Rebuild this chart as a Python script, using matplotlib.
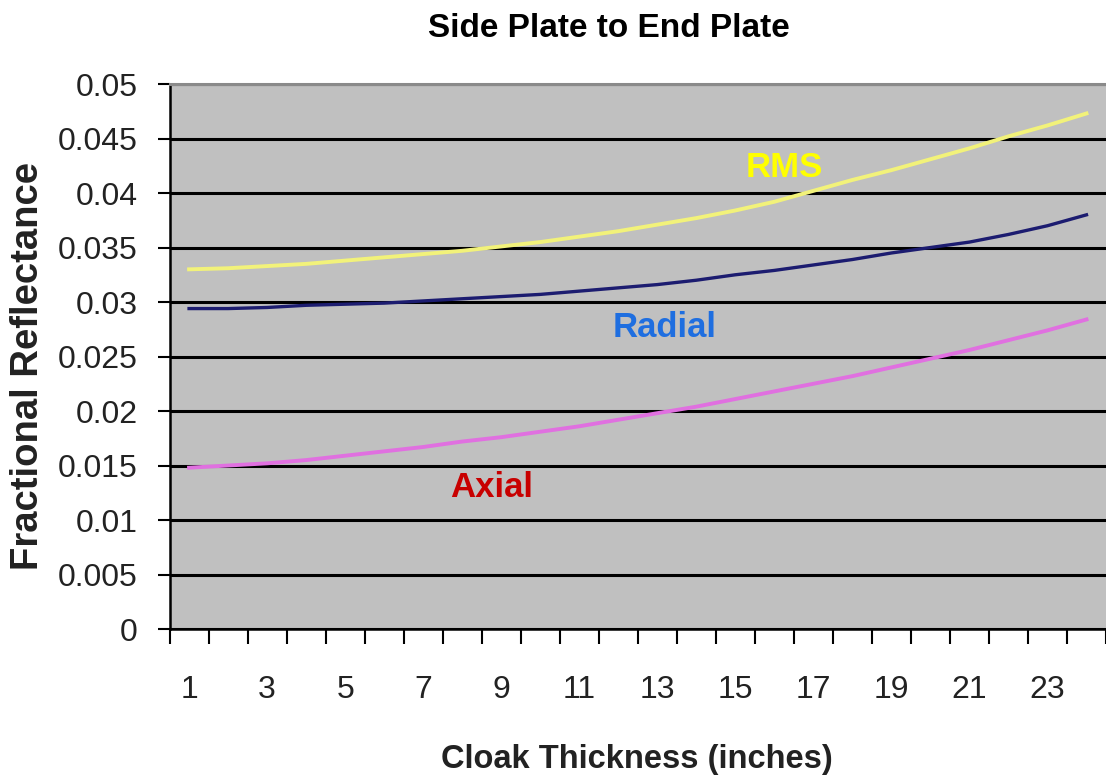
import matplotlib
matplotlib.use('Agg')
import matplotlib.pyplot as plt
from matplotlib.ticker import FixedLocator

thickness = list(range(1, 25))

rms = [0.0330, 0.0331, 0.0333, 0.0335, 0.0338, 0.0341, 0.0344, 0.0347,
       0.0351, 0.0355, 0.0360, 0.0365, 0.0371, 0.0377, 0.0384, 0.0392,
       0.0402, 0.0412, 0.0421, 0.0431, 0.0441, 0.0452, 0.0462, 0.0473]
radial = [0.0294, 0.0294, 0.0295, 0.0297, 0.0298, 0.0299, 0.0301, 0.0303,
          0.0305, 0.0307, 0.0310, 0.0313, 0.0316, 0.0320, 0.0325, 0.0329,
          0.0334, 0.0339, 0.0345, 0.0350, 0.0355, 0.0362, 0.0370, 0.0380]
axial = [0.0148, 0.0150, 0.0152, 0.0155, 0.0159, 0.0163, 0.0167, 0.0172,
         0.0176, 0.0181, 0.0186, 0.0192, 0.0198, 0.0204, 0.0211, 0.0218,
         0.0225, 0.0232, 0.0240, 0.0248, 0.0256, 0.0265, 0.0274, 0.0284]

x_tick_labels = ['1', '3', '5', '7', '9', '11', '13', '15', '17', '19', '21', '23']
y_ticks = [0, 0.005, 0.01, 0.015, 0.02, 0.025, 0.03, 0.035, 0.04, 0.045, 0.05]
y_tick_labels = ['0', '0.005', '0.01', '0.015', '0.02', '0.025', '0.03',
                 '0.035', '0.04', '0.045', '0.05']

narrow = ['Liberation Sans Narrow', 'Liberation Sans', 'DejaVu Sans']
bold = ['Liberation Sans', 'DejaVu Sans']

fig = plt.figure(figsize=(11.06, 7.81), dpi=100)
ax = fig.add_axes([0.1533, 0.1946, 0.8467, 0.6978])
ax.set_facecolor('#c0c0c0')

ax.plot(thickness, rms, color='#f2f27a', lw=2.8, zorder=3)
ax.plot(thickness, radial, color='#1c1c70', lw=2.4, zorder=3)
ax.plot(thickness, axial, color='#e070e0', lw=2.8, zorder=3)

ax.set_xlim(0.5, 24.5)
ax.set_ylim(0, 0.05)

ax.set_yticks(y_ticks)
ax.set_yticklabels(y_tick_labels, family=narrow, fontsize=23, color='#222222')
ax.set_xticks(thickness[::2])
ax.set_xticklabels(x_tick_labels, family=narrow, fontsize=23, color='#222222')
ax.xaxis.set_minor_locator(FixedLocator([t - 0.5 for t in thickness] + [thickness[-1] + 0.5]))

ax.tick_params(axis='y', length=9, width=1.5, pad=14, direction='out')
ax.tick_params(axis='x', which='major', length=0, pad=33)
ax.tick_params(axis='x', which='minor', length=11, width=1.5, direction='out')

ax.yaxis.grid(True, color='black', lw=2.2)
ax.set_axisbelow(True)

for side in ['left', 'bottom']:
    ax.spines[side].set_linewidth(1.8)
ax.spines['right'].set_visible(False)
ax.spines['top'].set_color('#8a8a8a')
ax.spines['top'].set_linewidth(2.2)
ax.spines['top'].set_zorder(4)

# series labels inside the plot area
ax.text(16.25, 0.0415, 'RMS', color='#ffff00', fontsize=25, fontweight='bold',
        family=bold, ha='center', va='baseline')
ax.text(13.2, 0.0268, 'Radial', color='#1e6ee0', fontsize=25, fontweight='bold',
        family=bold, ha='center', va='baseline')
ax.text(8.76, 0.0121, 'Axial', color='#c80000', fontsize=25, fontweight='bold',
        family=bold, ha='center', va='baseline')

fig.text(0.5507, 0.9526, 'Side Plate to End Plate', fontsize=24, fontweight='bold',
         family=bold, ha='center', va='baseline')
fig.text(0.5755, 0.0167, 'Cloak Thickness (inches)', fontsize=23.5, fontweight='bold',
         family=narrow, ha='center', va='baseline', color='#222222')
fig.text(0.025, 0.5314, 'Fractional Reflectance', fontsize=27.5, fontweight='bold',
         family=bold, ha='center', va='center', rotation=90, color='#222222')

fig.savefig('out.png', dpi=100)
